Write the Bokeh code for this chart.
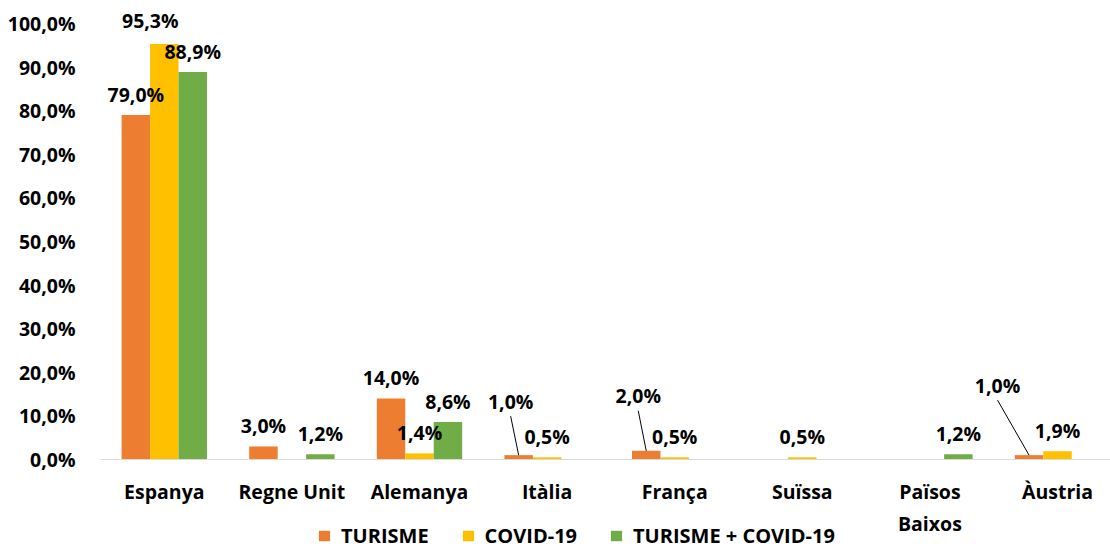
from bokeh.plotting import figure
from bokeh.models import ColumnDataSource, Range1d, FixedTicker, Legend, LegendItem
from bokeh.core.properties import value
from bokeh.embed import file_html
from bokeh.resources import INLINE

# ---------------- data ----------------
categories = ["Espanya", "Regne Unit", "Alemanya", "Itàlia", "França",
              "Suïssa", "Països\nBaixos", "Àustria"]
series_names = ["TURISME", "COVID-19", "TURISME + COVID-19"]
turisme = [79.0, 3.0, 14.0, 1.0, 2.0, 0.0, 0.0, 1.0]
covid = [95.3, 0.0, 1.4, 0.5, 0.5, 0.5, 0.0, 1.9]
turisme_covid = [88.9, 1.2, 8.6, 0.0, 0.0, 0.0, 1.2, 0.0]
y_ticks = [0, 10, 20, 30, 40, 50, 60, 70, 80, 90, 100]
y_tick_labels = ["0,0%", "10,0%", "20,0%", "30,0%", "40,0%", "50,0%",
                 "60,0%", "70,0%", "80,0%", "90,0%", "100,0%"]

# ---------------- style ----------------
colors = ["#ED7D31", "#FFC000", "#70AD47"]
FONT = "Open Sans"
FS = "19.5px"
LEG_FS = "20px"
W, H = 1110, 549
BL, BR, BT, BB = 100, 0, 10, 0
CAT_PX = 127.6          # px per category
PX_PER_UNIT = 4.36      # px per percentage point
ZERO_FROM_BOTTOM = 90   # px between y=0 and canvas bottom
X0 = -0.5
X1 = X0 + (W - BL - BR) / CAT_PX
Y0 = -ZERO_FROM_BOTTOM / PX_PER_UNIT
Y1 = (H - BT - BB - ZERO_FROM_BOTTOM) / PX_PER_UNIT
BAR_W = 0.223
group_offsets = [-BAR_W, 0.0, BAR_W]
DEFAULT_LABEL = (0.0, 20.5)          # (dx px, height above bar top px)
label_style = {(1, 0): (-14.0, 23.0),
               (0, 3): (-8.0, 54.0),
               (0, 4): (-8.0, 55.0),
               (0, 7): (-31.5, 70.0)}
leader_keys = [(0, 3), (0, 4), (0, 7)]

series = [turisme, covid, turisme_covid]

p = figure(width=W, height=H, x_range=Range1d(X0, X1), y_range=Range1d(Y0, Y1),
           output_backend="svg", toolbar_location=None,
           min_border_left=BL, min_border_right=BR, min_border_top=BT,
           min_border_bottom=BB)
p.outline_line_color = None
p.xgrid.visible = False
p.ygrid.visible = False
p.background_fill_color = "white"
p.border_fill_color = "white"

px_x = CAT_PX
px_y = PX_PER_UNIT

renderers = []
lab_x, lab_y, lab_t, lab_dx, lab_dy = [], [], [], [], []
seg_x0, seg_y0, seg_x1, seg_y1 = [], [], [], []
for si, vals in enumerate(series):
    xs = [i + group_offsets[si] for i in range(len(categories))]
    src = ColumnDataSource(dict(x=xs, top=vals))
    r = p.vbar(x="x", top="top", width=BAR_W, bottom=0, source=src,
               fill_color=colors[si], line_color=None)
    renderers.append(r)
    for ci, v in enumerate(vals):
        if v <= 0:
            continue
        dx, dy = label_style.get((si, ci), DEFAULT_LABEL)
        lab_x.append(xs[ci])
        lab_y.append(v)
        lab_t.append(f"{v:.1f}".replace(".", ",") + "%")
        lab_dx.append(dx)
        lab_dy.append(-dy)
        if (si, ci) in leader_keys:
            seg_x0.append(xs[ci] + dx / px_x)
            seg_y0.append(v + (dy - 15) / px_y)
            seg_x1.append(xs[ci])
            seg_y1.append(v)

p.segment(x0=seg_x0, y0=seg_y0, x1=seg_x1, y1=seg_y1, line_color="black", line_width=1)

lsrc = ColumnDataSource(dict(x=lab_x, y=lab_y, t=lab_t, dx=lab_dx, dy=lab_dy))
p.text(x="x", y="y", text="t", x_offset="dx", y_offset="dy", source=lsrc,
       text_align="center", text_baseline="middle",
       text_font=value(FONT), text_font_style="bold", text_font_size=FS,
       text_color="black")

# y axis
ya = p.yaxis[0]
ya.ticker = FixedTicker(ticks=y_ticks)
ya.major_label_overrides = {t: l for t, l in zip(y_ticks, y_tick_labels)}
ya.axis_line_color = None
ya.major_tick_line_color = None
ya.minor_tick_line_color = None
ya.major_tick_out = 0
ya.major_tick_in = 0
ya.major_label_standoff = 25
ya.major_label_text_font = FONT
ya.major_label_text_font_style = "bold"
ya.major_label_text_font_size = FS
ya.major_label_text_color = "black"

# x axis, drawn at y = 0
xa = p.xaxis[0]
xa.fixed_location = 0
xa.ticker = FixedTicker(ticks=list(range(len(categories))))
xa.major_label_overrides = {i: c for i, c in enumerate(categories)}
xa.axis_line_color = "#D9D9D9"
xa.axis_line_width = 1
xa.major_tick_line_color = None
xa.minor_tick_line_color = None
xa.major_tick_out = 0
xa.major_tick_in = 0
xa.major_label_standoff = 18
xa.major_label_text_font = FONT
xa.major_label_text_font_style = "bold"
xa.major_label_text_font_size = FS
xa.major_label_text_color = "black"

legend = Legend(items=[LegendItem(label=n, renderers=[r]) for n, r in zip(series_names, renderers)],
                orientation="horizontal", location=(217, 0),
                glyph_width=14, glyph_height=13, label_standoff=10, spacing=32,
                padding=0, margin=0, border_line_color=None, background_fill_alpha=0,
                label_text_font=FONT, label_text_font_style="bold",
                label_text_font_size=LEG_FS, label_text_color="black")
p.add_layout(legend)

open("out.html", "w").write(file_html(p, INLINE))
